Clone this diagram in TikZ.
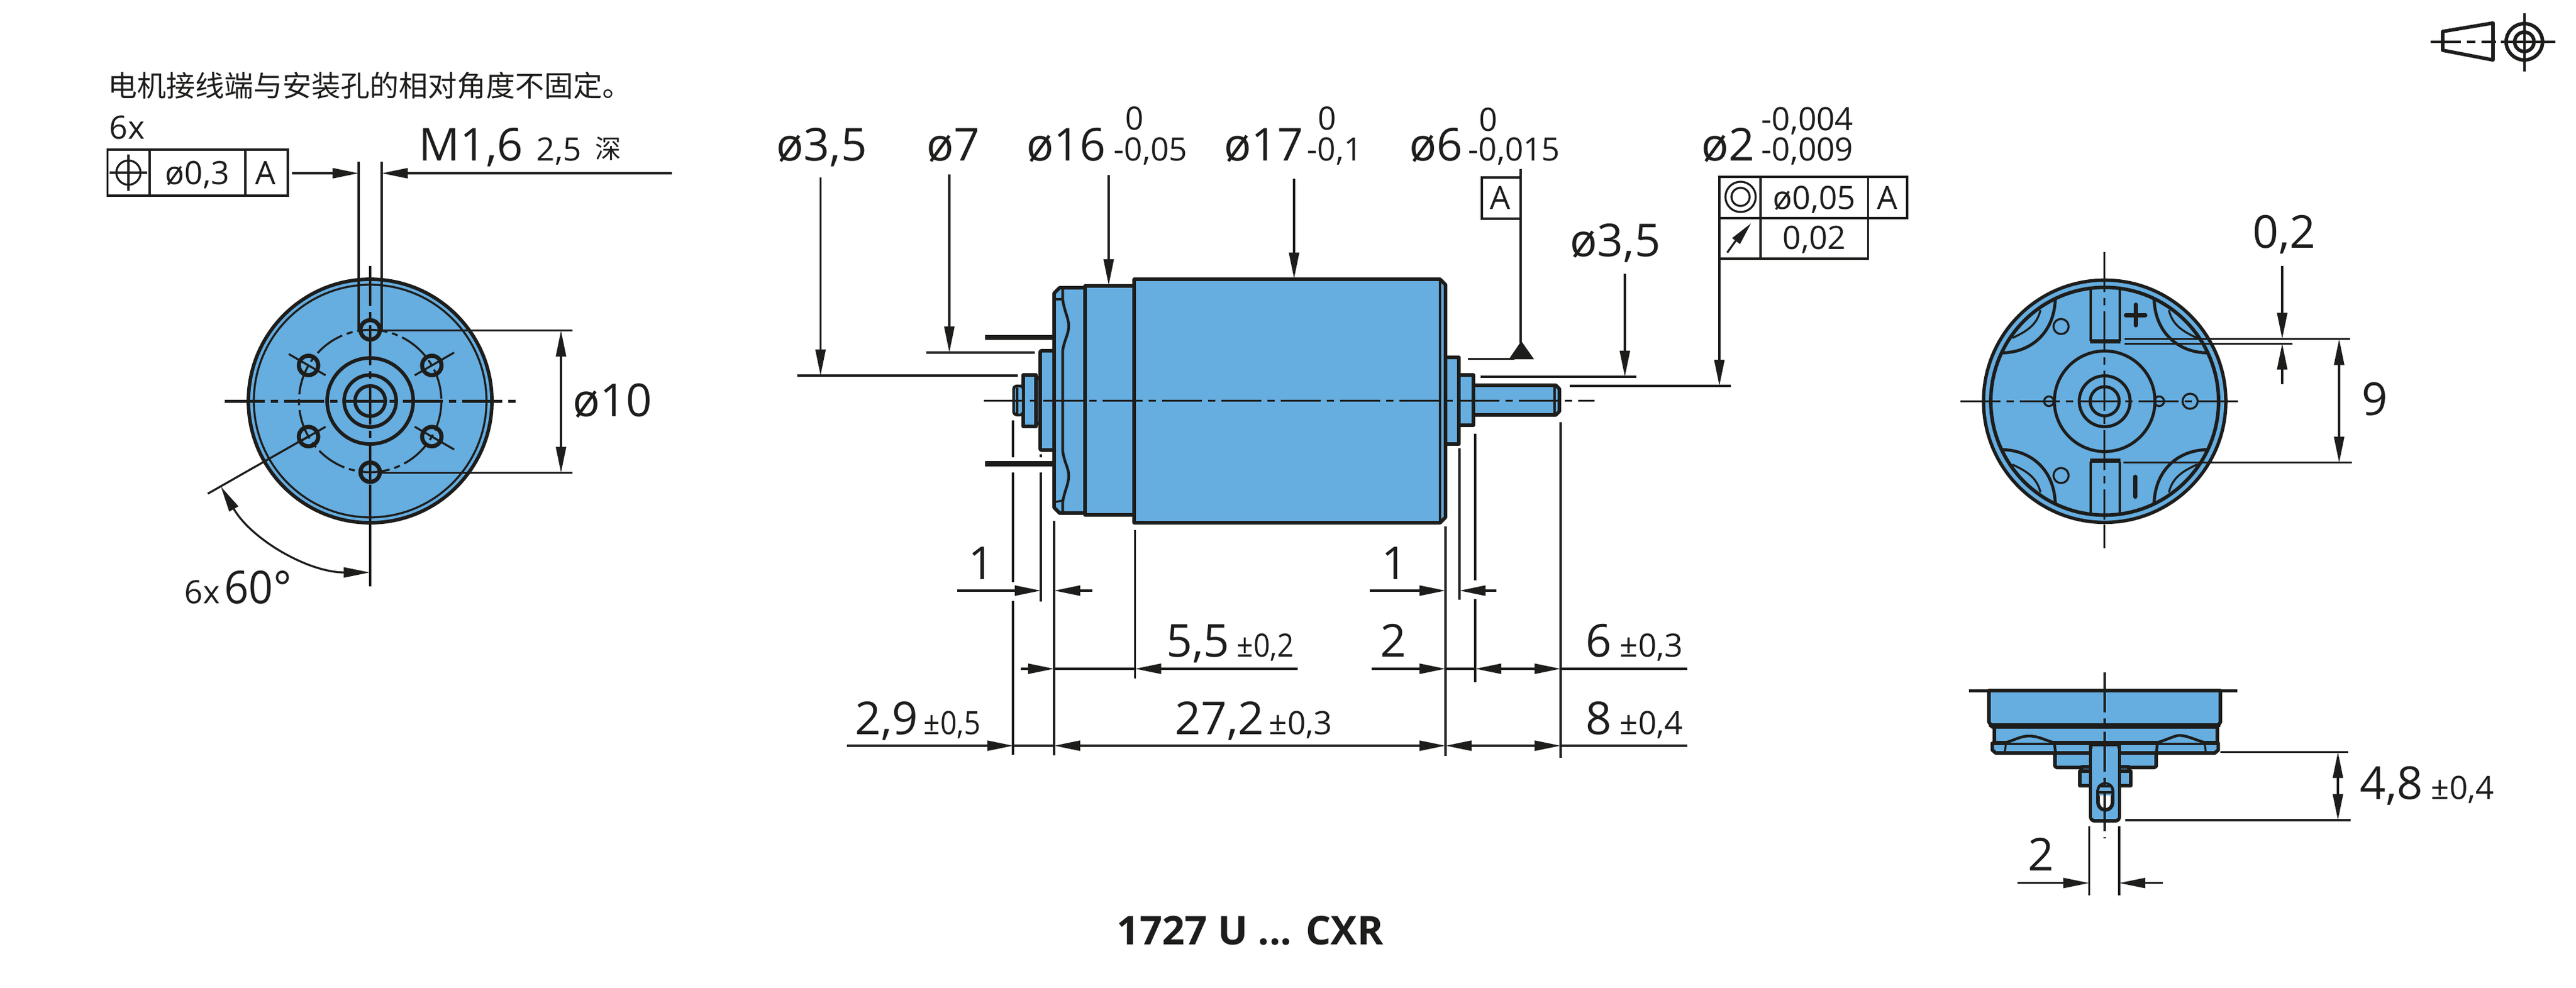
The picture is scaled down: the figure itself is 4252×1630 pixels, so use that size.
\documentclass[tikz,border=0pt]{standalone}
\usepackage{fontspec}
\setmainfont{Open Sans}
\newfontfamily\cjk{Noto Sans CJK SC}
\usetikzlibrary{arrows.meta}
\definecolor{ink}{HTML}{1D1D1B}
\definecolor{mblue}{HTML}{66ADE0}
\newcommand{\tolx}[1]{\scalebox{0.9}[1]{#1}}
\tikzset{
  x=0.01cm,y=-0.01cm,
  >={Triangle[length=0.43cm,width=0.165cm]},
  big/.style={font=\fontsize{21.3}{24}\selectfont,anchor=base west,inner sep=0pt,text=ink},
  small/.style={font=\fontsize{15.1}{18}\selectfont,anchor=base west,inner sep=0pt,text=ink},
  cjktext/.style={font=\cjk\fontsize{13.65}{16}\selectfont,anchor=base west,inner sep=0pt,text=ink},
  title/.style={font=\bfseries\fontsize{18.6}{20}\selectfont,anchor=base west,inner sep=0pt,text=ink},
  part/.style={fill=mblue,draw=ink,line width=0.058cm,line join=round},
  edge/.style={draw=ink,line width=0.058cm,line join=round},
  fine/.style={draw=ink,line width=0.033cm},
  dim/.style={draw=ink,line width=0.033cm},
  frame/.style={draw=ink,line width=0.033cm},
  centre/.style={draw=ink,line width=0.033cm,dash pattern=on 0.66cm off 0.1cm on 0.12cm off 0.1cm},
}
\begin{document}
\begin{tikzpicture}
\useasboundingbox (0,0) rectangle (4252,1630);
% ---------- left end view ----------
\fill[mblue] (611,662) circle[radius=201];
\draw[edge] (611,662) circle[radius=201];
\draw[fine] (611,662) circle[radius=192];
\draw[edge] (611,662) circle[radius=71];
\draw[edge] (611,662) circle[radius=43];
\draw[edge] (611,662) circle[radius=25];
\draw[fine,dash pattern=on 0.5cm off 0.08cm on 0.1cm off 0.08cm] (611,662) circle[radius=117.5];
\foreach \a in {30,90,150,210,270,330}{
  \draw[edge,line width=0.068cm] ({611+117.5*cos(\a)},{662+117.5*sin(\a)}) circle[radius=16];
}
\draw[fine] ({611+85*cos(30)},{662+85*sin(30)}) -- ({611+160*cos(30)},{662+160*sin(30)});
\draw[fine] ({611+85*cos(150)},{662+85*sin(150)}) -- ({611+130*cos(150)},{662+130*sin(150)});
\draw[fine] ({611+85*cos(210)},{662+85*sin(210)}) -- ({611+155*cos(210)},{662+155*sin(210)});
\draw[fine] ({611+85*cos(330)},{662+85*sin(330)}) -- ({611+160*cos(330)},{662+160*sin(330)});
\draw[centre,line width=0.05cm] (371,662) -- (857,662);
\draw[centre] (611,439) -- (611,800);
\draw[fine] (611,800) -- (611,968);
\draw[fine] (592,267) -- (592,548);
\draw[fine] (630,267) -- (630,545);
\draw[dim,->] (482,286) -- (592,286);
\draw[dim,->] (1109,286) -- (630,286);
\draw[fine] (628,545.5) -- (945,545.5);
\draw[fine] (628,780.6) -- (945,780.6);
\draw[dim,<->] (926,545.5) -- (926,780.6);
\draw[fine] (343,815) -- (508,721);
\draw[dim,<->] (364.5,803) arc[start angle=150,end angle=90,radius=284];
\node[cjktext] (note) at (178,159) {\cjk 电机接线端与安装孔的相对角度不固定。};
\node[small] (sixa) at (180,229) {6x};
\draw[frame] (177.6,247) rectangle (475,323);
\draw[frame] (247,247) -- (247,323);
\draw[frame] (405,247) -- (405,323);
\draw[fine] (212,285) circle[radius=20];
\draw[fine] (181,285) -- (243,285);
\draw[fine] (212,254.5) -- (212,315);
\node[small] (posval) at (272,304) {ø0,3};
\node[small] (posa) at (421,304) {A};
\node[big] (mlabel) at (691,265) {M1,6};
\node[small] (depth) at (885,265) {2,5};
\node[cjktext,font=\cjk\fontsize{12.2}{14}\selectfont] (deep) at (982,261) {\cjk 深};
\node[big] (dten) at (945,687) {ø10};
\node[small] (sixb) at (304,996) {6x};
\node[big] (sixty) at (370,996) {\scalebox{0.94}[1]{60°}};
% ---------- side view ----------
\fill[ink] (1626,553) rectangle (1740,561);
\fill[ink] (1626,761) rectangle (1740,770);
\draw[part] (1872,461) -- (2377,461) -- (2386,470) -- (2386,854) -- (2377,863) -- (1872,863) -- cycle;
\draw[fine] (2377,461) -- (2377,863);
\draw[part] (1791,472) rectangle (1872,850);
\draw[part] (1749,475) -- (1791,475) -- (1791,847) -- (1749,847) -- (1740,838) -- (1740,484) -- cycle;
\draw[part,rounded corners=0.02cm] (1717,579) rectangle (1740,743);
\draw[part] (1710,624) rectangle (1717,699);
\draw[part] (1689,619) rectangle (1710,704);
\draw[part,line width=0.045cm,rounded corners=0.05cm] (1673,637) rectangle (1689,685);
\draw[fine] (1679,640) -- (1679,683);
\draw[edge,line width=0.045cm] (1754,475) -- (1754,494)
  .. controls (1757,515) and (1764,525) .. (1764,538)
  .. controls (1764,552) and (1757,560) .. (1754,579) -- (1754,744)
  .. controls (1757,765) and (1764,772) .. (1764,785)
  .. controls (1764,800) and (1757,810) .. (1754,829) -- (1754,847);
\draw[edge,line width=0.033cm] (1741,494) -- (1754,494);
\draw[edge,line width=0.033cm] (1741,829) -- (1754,826);
\draw[part] (2386,590) rectangle (2408,733);
\draw[part] (2408,619) rectangle (2432,702);
\draw[part] (2432,636) -- (2568,636) -- (2574,642) -- (2574,679) -- (2568,685) -- (2432,685) -- cycle;
\draw[fine] (2566,636) -- (2566,685);
\draw[centre] (1624,661.6) -- (2632,661.6);
% dimensions above
\node[big] (da) at (1281,265) {ø3,5};
\draw[dim,->] (1354.4,293) -- (1354.4,620);
\draw[dim] (1316,620) -- (1680,620);
\node[big] (db) at (1529,265) {ø7};
\draw[dim,->] (1567,288) -- (1567,582);
\draw[dim] (1529,582) -- (1708,582);
\node[big] (dc) at (1694,265) {ø16};
\node[small] (dcu) at (1857,214) {0};
\node[small] (dcl) at (1838,265) {-0,05};
\draw[dim,->] (1830,289) -- (1830,471);
\node[big] (dd) at (2020,265) {ø17};
\node[small] (ddu) at (2175,214) {0};
\node[small] (ddl) at (2157,265) {-0,1};
\draw[dim,->] (2136,295) -- (2136,460);
\node[big] (de) at (2326,265) {ø6};
\node[small] (deu) at (2441,216) {0};
\node[small] (del) at (2423,265) {-0,015};
\draw[frame] (2446,293) rectangle (2510,361);
\node[small] (dat) at (2459,345) {A};
\draw[fine] (2510,279) -- (2510,566);
\fill[ink] (2511,563) -- (2532,593) -- (2490.6,593) -- cycle;
\draw[dim] (2423,592.7) -- (2500,592.7);
\node[big] (df) at (2591,423) {ø3,5};
\draw[dim,->] (2682,452) -- (2682,622);
\draw[dim] (2443.5,622) -- (2701,622);
\node[big] (dg) at (2808,265) {ø2};
\node[small] (dgu) at (2907,215) {-0,004};
\node[small] (dgl) at (2907,265) {-0,009};
\draw[frame] (2838,292) rectangle (3148,360);
\draw[frame] (2838,360) rectangle (3083.6,427);
\draw[frame] (2906,292) -- (2906,427);
\draw[frame] (3083.6,292) -- (3083.6,360);
\draw[fine] (2873,325) circle[radius=25];
\draw[fine] (2873,325) circle[radius=15];
\node[small] (gv) at (2926,345) {ø0,05};
\node[small] (ga) at (3098,345) {A};
\node[small] (gr) at (2942,411) {0,02};
\draw[fine] (2851,417) -- (2866,396);
\fill[ink] (2890,369) -- (2872,403) -- (2859,393) -- cycle;
\draw[dim,->] (2838,427) -- (2838,637);
\draw[dim] (2590.5,637) -- (2857,637);
% extension lines
\draw[fine] (1672,694) -- (1672,755);
\draw[fine] (1672,780) -- (1672,961);
\draw[fine] (1672,992) -- (1672,1246);
\draw[fine] (1718,750) -- (1718,755);
\draw[fine] (1718,780) -- (1718,993);
\draw[fine] (1740,860) -- (1740,1247);
\draw[fine] (1873.5,875) -- (1873.5,1120);
\draw[fine] (2386,869) -- (2386,1248);
\draw[fine] (2409,740) -- (2409,990);
\draw[fine] (2435,716) -- (2435,958);
\draw[fine] (2435,989) -- (2435,1126);
\draw[fine] (2576,697) -- (2576,1251);
% dimensions below
\draw[dim,->] (1580,975) -- (1718,975);
\draw[dim,->] (1802.6,975) -- (1740,975);
\node[big] (one1) at (1598,956) {1};
\draw[dim,->] (2261,975) -- (2386,975);
\draw[dim,->] (2469.6,975) -- (2409,975);
\node[big] (one2) at (2280,956) {1};
\draw[dim,->] (1685,1104) -- (1740,1104);
\draw[dim] (1740,1104) -- (1873,1104);
\draw[dim,->] (2142,1104) -- (1873.5,1104);
\node[big] (fivefive) at (1925,1084) {5,5};
\node[small] (tolb) at (2041,1084) {\tolx{±0,2}};
\draw[dim,->] (2264,1104) -- (2386,1104);
\draw[dim] (2386,1104) -- (2435,1104);
\draw[dim,<-] (2435,1104) -- (2500,1104);
\node[big] (two1) at (2278,1084) {2};
\draw[dim,->] (2490,1104) -- (2576,1104);
\draw[dim] (2576,1104) -- (2785,1104);
\node[big] (six) at (2617,1084) {6};
\node[small] (tolc) at (2673,1084) {±0,3};
\draw[dim,->] (1398,1231) -- (1672.5,1231);
\draw[dim] (1672,1231) -- (1740,1231);
\draw[dim,<->] (1740,1231) -- (2386,1231);
\draw[dim,<->] (2386,1231) -- (2576,1231);
\draw[dim] (2576,1231) -- (2785,1231);
\node[big] (twonine) at (1411,1212) {2,9};
\node[small] (tola) at (1524,1212) {\tolx{±0,5}};
\node[big] (twoseven) at (1939,1212) {27,2};
\node[small] (told) at (2094,1212) {±0,3};
\node[big] (eight) at (2617,1212) {8};
\node[small] (tole) at (2673,1212) {±0,4};
\node[title] (name) at (1843,1559) {1727 U ... CXR};
% ---------- right end view ----------
\fill[mblue] (3474,662.4) circle[radius=200];
\draw[edge,line width=0.055cm] (3474,662.4) circle[radius=200];
\draw[edge] (3474,662.4) circle[radius=188];
\draw[edge,line width=0.05cm] (3474,662.4) circle[radius=83];
\draw[edge,line width=0.05cm] (3474,662.4) circle[radius=42];
\draw[edge,line width=0.05cm] (3474,662.4) circle[radius=24];
\draw[fine] (3382,662.4) circle[radius=8];
\draw[fine] (3564,662.4) circle[radius=8];
\draw[fine] (3615,662.4) circle[radius=12.5];
\draw[fine] (3402,539) circle[radius=12.5];
\draw[fine] (3402,785) circle[radius=12.5];
\foreach \sx/\sy in {1/1,-1/1,1/-1,-1/-1}{
  \draw[edge,line width=0.05cm] ({3474+\sx*81.6},{662.4+\sy*167.4}) .. controls ({3474+\sx*84},{662.4+\sy*110}) and ({3474+\sx*125},{662.4+\sy*80}) .. ({3474+\sx*169.6},{662.4+\sy*80});
  \draw[fine] ({3474+\sx*106},{662.4+\sy*150.4}) .. controls ({3474+\sx*112},{662.4+\sy*125}) and ({3474+\sx*130},{662.4+\sy*115}) .. ({3474+\sx*152.4},{662.4+\sy*104.4});
}
\draw[fine] (3451,476) -- (3451,563) (3499,476) -- (3499,563);
\fill[ink] (3450,560) rectangle (3500,567);
\draw[fine] (3451,762) -- (3451,849) (3499,762) -- (3499,849);
\fill[ink] (3450,757) rectangle (3500,764);
\draw[ink,line width=0.07cm,line cap=round] (3509,520) -- (3541,520) (3525,503) -- (3525,537);
\draw[ink,line width=0.07cm,line cap=round] (3524.4,787) -- (3524.4,820);
\draw[centre] (3236,662.4) -- (3704,662.4);
\draw[centre] (3473.4,416) -- (3473.4,858);
\draw[fine] (3473.4,866) -- (3473.4,905);
\node[big] (ozt) at (3718,409) {0,2};
\draw[dim,->] (3767,438.5) -- (3767,559.5);
\draw[dim,->] (3767,634) -- (3767,567);
\draw[fine] (3506.5,559.5) -- (3879,559.5);
\draw[fine] (3507,567.5) -- (3784,567.5);
\draw[dim,<->] (3861,559.5) -- (3861,764);
\draw[fine] (3505,763.5) -- (3881.5,763.5);
\node[big] (nine) at (3898,685) {9};
% ---------- lower view ----------
\draw[part] (3283,1140) -- (3665,1140) -- (3665,1192) -- (3660,1200) -- (3288,1200) -- (3283,1192) -- cycle;
\fill[ink] (3283,1194) rectangle (3665,1200);
\draw[part] (3292,1200) -- (3660,1200) -- (3660,1226) -- (3292,1226) -- cycle;
\draw[part] (3288.4,1227) -- (3661.5,1227) -- (3661.5,1238) -- (3656,1243) -- (3294,1243) -- (3288.4,1238) -- cycle;
\fill[mblue] (3310,1226) .. controls (3325,1222) and (3335,1215) .. (3349,1215) .. controls (3365,1215) and (3375,1222) .. (3391,1226) -- cycle;
\fill[mblue] (3560,1226) .. controls (3575,1222) and (3590,1214) .. (3597,1214) .. controls (3610,1214) and (3625,1222) .. (3640,1226) -- cycle;
\draw[edge,line width=0.045cm] (3310,1226) .. controls (3325,1222) and (3335,1215) .. (3349,1215) .. controls (3365,1215) and (3375,1222) .. (3391,1226);
\draw[edge,line width=0.045cm] (3560,1226) .. controls (3575,1222) and (3590,1214) .. (3597,1214) .. controls (3610,1214) and (3625,1222) .. (3640,1226);
\draw[fine] (3311,1228) -- (3309,1242) (3639,1228) -- (3641,1242);
\draw[part] (3392,1243) -- (3559,1243) -- (3559,1265) -- (3556,1267) -- (3395,1267) -- (3392,1265) -- cycle;
\draw[edge,line width=0.045cm] (3391,1228) -- (3393,1243) (3559,1243) -- (3561,1228);
\draw[part] (3436,1266) rectangle (3514,1273);
\draw[part] (3433,1273) rectangle (3517,1297);
\draw[part,rounded corners=0.06cm] (3451,1232) -- (3451,1355) -- (3498,1355) -- (3498,1232);
\fill[mblue] (3453,1236) rectangle (3496,1350);
\fill[ink] (3448,1226) rectangle (3501,1232);
\draw[part,line width=0.06cm,fill=white] (3463,1306) arc[start angle=180,end angle=360,x radius=12,y radius=12] -- (3487,1325) arc[start angle=0,end angle=180,x radius=12,y radius=12] -- cycle;
\fill[mblue] (3465,1305) arc[start angle=180,end angle=360,x radius=10,y radius=10] -- (3485,1313) -- (3465,1313) -- cycle;
\draw[fine] (3463,1298) -- (3487,1298) (3463,1308) -- (3487,1308);
\draw[centre,line width=0.05cm] (3250,1140) -- (3693,1140);
\draw[centre] (3474,1110) -- (3474,1384);
\draw[fine] (3664.7,1241.3) -- (3876.4,1241.3);
\draw[fine] (3508,1354) -- (3879.6,1354);
\draw[dim,<->] (3859,1241.3) -- (3859,1354);
\node[big] (fourE) at (3895,1319) {4,8};
\node[small] (tolf) at (4012,1319) {±0,4};
\draw[fine] (3448.5,1364) -- (3448.5,1478);
\draw[fine] (3498,1364) -- (3498,1478);
\draw[dim,->] (3330,1457.7) -- (3448.5,1457.7);
\draw[dim,->] (3570,1457.7) -- (3498,1457.7);
\node[big] (two2) at (3347,1437) {2};
% ---------- projection symbol ----------
\draw[edge] (4032,52) -- (4115,38) -- (4115,99) -- (4032,83) -- cycle;
\draw[edge] (4166.7,69) circle[radius=30];
\draw[edge] (4166.7,69) circle[radius=16];
\draw[fine,line width=0.035cm,dash pattern=on 0.5cm off 0.1cm on 0.14cm off 0.1cm] (4012,69) -- (4120,69);
\draw[fine,line width=0.035cm] (4128,69) -- (4218,69);
\draw[fine,line width=0.035cm] (4166.7,22) -- (4166.7,118);
\end{tikzpicture}
\end{document}
